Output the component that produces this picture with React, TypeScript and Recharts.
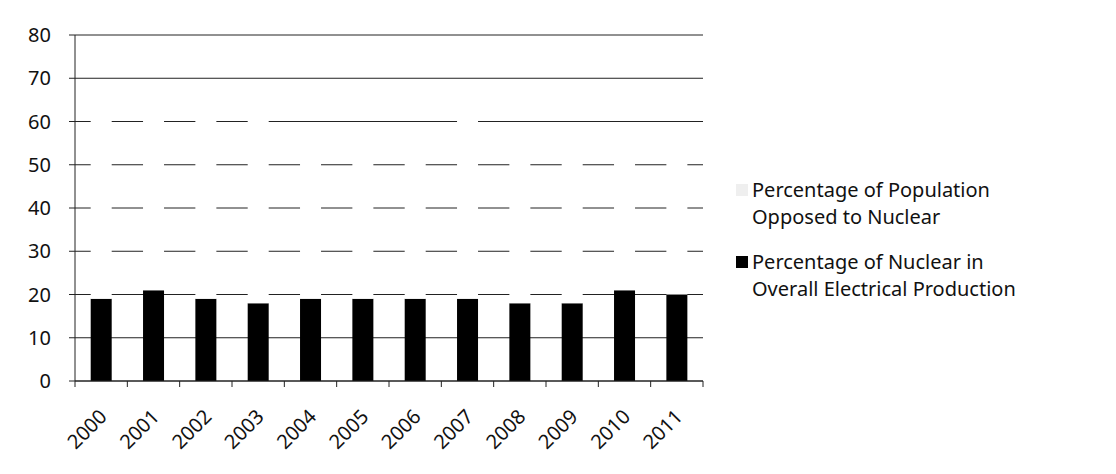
import { Bar, BarChart, CartesianGrid, Legend, XAxis, YAxis } from 'recharts';

const years = ['2000', '2001', '2002', '2003', '2004', '2005', '2006', '2007', '2008', '2009', '2010', '2011'];
const nuclearShare = [19, 21, 19, 18, 19, 19, 19, 19, 18, 18, 21, 20];
const opposedShare = [44, 41, 45, 43, 39, 38, 39, 43, 37, 39, 35, 34];
const yTicks = [0, 10, 20, 30, 40, 50, 60, 70, 80];

const seriesNames = {
  opposed: 'Percentage of Population Opposed to Nuclear',
  nuclear: 'Percentage of Nuclear in Overall Electrical Production',
};

const data = years.map((year, i) => ({
  year,
  nuclear: nuclearShare[i],
  opposed: opposedShare[i],
}));

const W = 1116;
const H = 474;
const margin = { top: 35, right: 413, bottom: 0, left: 0 };
const Y_AXIS_W = 75;
const PLOT_W = W - margin.left - margin.right - Y_AXIS_W;
const BAND = PLOT_W / years.length;
const FONT = '"Noto Sans", sans-serif';

function YearTick(props: any) {
  const { x, y, payload, index } = props;
  const axisY = y - 6;
  const half = BAND / 2;
  const tx = x + 7;
  const ty = axisY + 37;
  return (
    <g>
      <line x1={x - half} x2={x - half} y1={axisY} y2={axisY + 6} stroke="#222" />
      {index === years.length - 1 && (
        <line x1={x + half} x2={x + half} y1={axisY} y2={axisY + 6} stroke="#222" />
      )}
      <text
        x={tx}
        y={ty}
        transform={`rotate(-45, ${tx}, ${ty})`}
        textAnchor="end"
        fontFamily={FONT}
        fontSize={20}
        fill="#111"
      >
        {payload.value}
      </text>
    </g>
  );
}

function LegendBox() {
  const row = { display: 'flex', alignItems: 'flex-start', marginBottom: 18 } as const;
  const box = (fill: string) => ({
    width: 12,
    height: 12,
    background: fill,
    marginTop: 8,
    marginRight: 4,
    flex: 'none',
  });
  return (
    <div style={{ fontFamily: FONT, fontSize: 20, color: '#111', lineHeight: '27px' }}>
      <div style={row}>
        <span style={box('#efefef')} />
        <span>
          Percentage of Population
          <br />
          Opposed to Nuclear
        </span>
      </div>
      <div style={row}>
        <span style={box('#000')} />
        <span>
          Percentage of Nuclear in
          <br />
          Overall Electrical Production
        </span>
      </div>
    </div>
  );
}

export default function App() {
  return (
    <div style={{ position: 'relative', width: W, height: H, margin: -8, background: '#fff' }}>
      <div
        style={{
          position: 'absolute',
          left: 4,
          top: 5,
          right: 0,
          bottom: 0,
          borderLeft: '1px solid #999',
          borderTop: '1px solid #999',
          boxSizing: 'border-box',
        }}
      >
        <div style={{ position: 'absolute', left: -5, top: -6 }}>
          <BarChart width={W} height={H} data={data} margin={margin} barCategoryGap="30%">
            <CartesianGrid vertical={false} stroke="#222" strokeOpacity={1} />
            <XAxis
              dataKey="year"
              stroke="#222"
              height={93}
              tickSize={6}
              tickMargin={0}
              tickLine={false}
              interval={0}
              tick={<YearTick />}
            />
            <YAxis
              stroke="#222"
              width={Y_AXIS_W}
              domain={[0, 80]}
              ticks={yTicks}
              tickSize={6}
              tickMargin={18}
              tick={{ fontFamily: FONT, fontSize: 20, fill: '#111' }}
            />
            <Legend
              layout="vertical"
              align="center"
              verticalAlign="middle"
              wrapperStyle={{ left: 736, top: 176, width: 380 }}
              content={() => <LegendBox />}
            />
            <Bar dataKey="nuclear" name={seriesNames.nuclear} stackId="a" fill="#000" isAnimationActive={false} />
            <Bar dataKey="opposed" name={seriesNames.opposed} stackId="a" fill="#fff" isAnimationActive={false} />
          </BarChart>
        </div>
      </div>
    </div>
  );
}
